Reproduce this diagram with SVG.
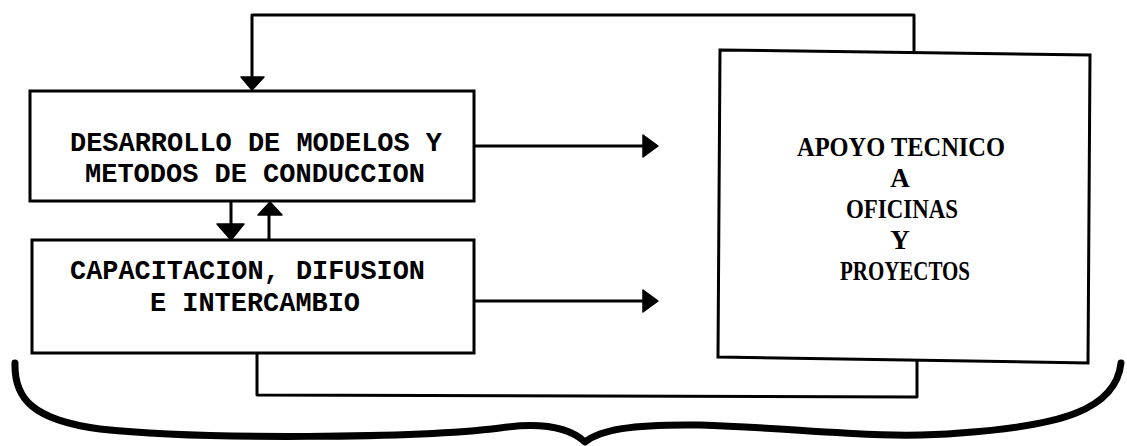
<svg xmlns="http://www.w3.org/2000/svg" width="1127" height="446" viewBox="0 0 1127 446">
<style>
.box{fill:none;stroke:#000;stroke-width:3;stroke-linejoin:miter}
.ln{fill:none;stroke:#000;stroke-width:3;stroke-linejoin:round}
.hd{fill:#000;stroke:#000;stroke-width:1.5;stroke-linejoin:round}
.t{font-family:"Liberation Mono",monospace;font-size:28px;font-weight:bold;fill:#000}
.r{font-family:"Liberation Serif",serif;font-size:27px;font-weight:bold;fill:#000}
.brace{fill:none;stroke:#000;stroke-width:7;stroke-linecap:round;stroke-linejoin:round}
</style>
<rect width="1127" height="446" fill="#fff"/>
<g id="connectors">
<path class="ln" d="M914,52 L914,15 L252,15 L252,80"/>
<polygon class="hd" points="241,77 264,77 252,90"/>
<path class="ln" d="M474,146 L646,146"/>
<polygon class="hd" points="643,135 658,146 643,157"/>
<path class="ln" d="M474,301 L646,301"/>
<polygon class="hd" points="643,290 658,301 643,312"/>
<path class="ln" d="M231,201 L231,228"/>
<polygon class="hd" points="217,224 244,224 231,240"/>
<path class="ln" d="M269,240 L269,212"/>
<polygon class="hd" points="258,215 282,215 270,202"/>
<path class="ln" d="M257,353 L257,395 L917,397 L917,361"/>
</g>
<g id="node-desarrollo">
<rect class="box" x="30" y="91" width="444" height="110"/>
<text class="t" x="70" y="151" textLength="372" lengthAdjust="spacingAndGlyphs">DESARROLLO DE MODELOS Y</text>
<text class="t" x="85" y="182" textLength="340" lengthAdjust="spacingAndGlyphs">METODOS DE CONDUCCION</text>
</g>
<g id="node-capacitacion">
<rect class="box" x="32" y="240" width="442" height="113"/>
<text class="t" x="70" y="279" textLength="355" lengthAdjust="spacingAndGlyphs">CAPACITACION, DIFUSION</text>
<text class="t" x="150" y="311" textLength="210" lengthAdjust="spacingAndGlyphs">E INTERCAMBIO</text>
</g>
<g id="node-apoyo">
<polygon class="box" points="720,50 1090,55 1088,363 718,357"/>
<text class="r" x="797" y="156" textLength="208" lengthAdjust="spacingAndGlyphs">APOYO TECNICO</text>
<text class="r" x="900" y="187" text-anchor="middle">A</text>
<text class="r" x="846" y="218" textLength="112" lengthAdjust="spacingAndGlyphs">OFICINAS</text>
<text class="r" x="900" y="249" text-anchor="middle">Y</text>
<text class="r" x="840" y="280" textLength="130" lengthAdjust="spacingAndGlyphs">PROYECTOS</text>
</g>
<g id="brace">
<path class="brace" d="M15,363 C14,398 32,420 100,429 C200,440 420,438 500,428 C548,421 572,430 585,442 C600,430 630,424 700,425 C800,428 880,440 960,433 C1060,426 1116,410 1121,363"/>
</g>
</svg>
